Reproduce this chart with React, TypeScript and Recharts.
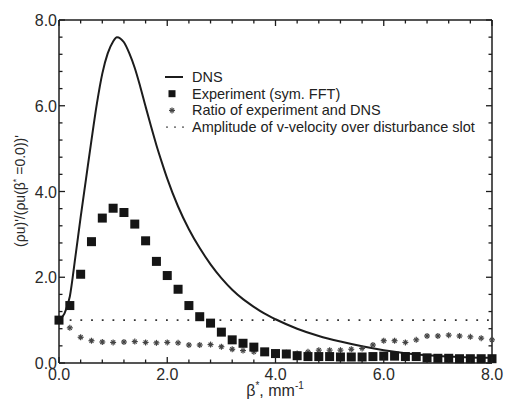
import React from "react";
import { ComposedChart, Legend, Line, Scatter, XAxis, YAxis } from "recharts";

// DNS curve
const dnsBeta = [0, 0.1, 0.2, 0.3, 0.4, 0.5, 0.6, 0.7, 0.8, 0.9, 1.0, 1.07, 1.2, 1.3, 1.4, 1.5, 1.6, 1.7, 1.8, 1.9, 2.0, 2.2, 2.4, 2.6, 2.8, 3.0, 3.2, 3.4, 3.6, 3.8, 4.0, 4.4, 4.8, 5.2, 5.6, 6.0, 6.4, 6.8, 7.2, 7.6, 8.0];
const dnsAmp = [1.0, 1.15, 1.55, 2.45, 3.4, 4.3, 5.2, 6.05, 6.75, 7.22, 7.5, 7.6, 7.48, 7.22, 6.88, 6.45, 5.98, 5.52, 5.08, 4.68, 4.3, 3.65, 3.12, 2.68, 2.3, 1.98, 1.71, 1.49, 1.31, 1.15, 1.02, 0.8, 0.63, 0.5, 0.39, 0.3, 0.23, 0.18, 0.15, 0.13, 0.12];

// experiment samples (sym. FFT) and ratio experiment / DNS
const expBeta = [0, 0.2, 0.4, 0.6, 0.8, 1.0, 1.2, 1.4, 1.6, 1.8, 2.0, 2.2, 2.4, 2.6, 2.8, 3.0, 3.2, 3.4, 3.6, 3.8, 4.0, 4.2, 4.4, 4.6, 4.8, 5.0, 5.2, 5.4, 5.6, 5.8, 6.0, 6.2, 6.4, 6.6, 6.8, 7.0, 7.2, 7.4, 7.6, 7.8, 8.0];
const expAmp = [1.0, 1.34, 2.07, 2.83, 3.38, 3.61, 3.51, 3.24, 2.85, 2.37, 2.04, 1.72, 1.34, 1.08, 0.93, 0.72, 0.54, 0.46, 0.37, 0.26, 0.22, 0.21, 0.17, 0.15, 0.15, 0.15, 0.14, 0.14, 0.14, 0.15, 0.16, 0.16, 0.15, 0.15, 0.12, 0.11, 0.11, 0.1, 0.1, 0.1, 0.1];
const ratioAmp = [1.0, 0.82, 0.6, 0.52, 0.49, 0.48, 0.49, 0.5, 0.48, 0.47, 0.48, 0.47, 0.42, 0.42, 0.43, 0.38, 0.32, 0.29, 0.26, 0.26, 0.24, 0.24, 0.22, 0.26, 0.3, 0.3, 0.3, 0.32, 0.34, 0.42, 0.52, 0.52, 0.48, 0.54, 0.63, 0.63, 0.65, 0.63, 0.61, 0.58, 0.54];

// v-velocity amplitude over the slot
const slotBeta = [0, 8];
const slotAmp = [1.0, 1.0];

const xTicks = [0, 0.4, 0.8, 1.2, 1.6, 2.0, 2.4, 2.8, 3.2, 3.6, 4.0, 4.4, 4.8, 5.2, 5.6, 6.0, 6.4, 6.8, 7.2, 7.6, 8.0];
const yTicks = [0, 0.4, 0.8, 1.2, 1.6, 2.0, 2.4, 2.8, 3.2, 3.6, 4.0, 4.4, 4.8, 5.2, 5.6, 6.0, 6.4, 6.8, 7.2, 7.6, 8.0];

const legendLabels = [
  "DNS",
  "Experiment (sym. FFT)",
  "Ratio of experiment and DNS",
  "Amplitude of v-velocity over disturbance slot",
];

const ink = "#1c1c1c";
const font = "'Liberation Sans', Arial, sans-serif";

const toRows = (xs: number[], ys: number[]) => xs.map((beta, i) => ({ beta, amp: ys[i] }));
const dnsData = toRows(dnsBeta, dnsAmp);
const expData = toRows(expBeta, expAmp);
const ratioData = toRows(expBeta, ratioAmp);
const slotData = toRows(slotBeta, slotAmp);

const isMajor = (v: number) => Math.abs(v / 2 - Math.round(v / 2)) < 1e-6;
const tickLen = (v: number) => (isMajor(v) ? 6 : 3.5);

function BottomTick({ x, y, payload }: any) {
  const v = payload.value;
  return (
    <g>
      <line x1={x} y1={y} x2={x} y2={y - tickLen(v)} stroke={ink} strokeWidth={1.3} />
      {isMajor(v) && (
        <text x={x} y={y + 17} textAnchor="middle" fontFamily={font} fontSize={16} fill="#2a2a2a">
          {v.toFixed(1)}
        </text>
      )}
    </g>
  );
}

function TopTick({ x, y, payload }: any) {
  return <line x1={x} y1={y} x2={x} y2={y + tickLen(payload.value)} stroke={ink} strokeWidth={1.3} />;
}

function LeftTick({ x, y, payload }: any) {
  const v = payload.value;
  return (
    <g>
      <line x1={x} y1={y} x2={x + tickLen(v)} y2={y} stroke={ink} strokeWidth={1.3} />
      {isMajor(v) && (
        <text x={x - 2} y={y + 6} textAnchor="end" fontFamily={font} fontSize={16} fill="#2a2a2a">
          {v.toFixed(1)}
        </text>
      )}
    </g>
  );
}

function RightTick({ x, y, payload }: any) {
  return <line x1={x} y1={y} x2={x - tickLen(payload.value)} y2={y} stroke={ink} strokeWidth={1.3} />;
}

function SquareDot({ cx, cy }: any) {
  return <rect x={cx - 4.5} y={cy - 4.5} width={9} height={9} fill="#151515" />;
}

function StarDot({ cx, cy }: any) {
  const r = 3;
  return (
    <g stroke="#444" strokeWidth={1.2}>
      <line x1={cx - r} y1={cy} x2={cx + r} y2={cy} />
      <line x1={cx} y1={cy - r} x2={cx} y2={cy + r} />
      <line x1={cx - 2} y1={cy - 2} x2={cx + 2} y2={cy + 2} />
      <line x1={cx - 2} y1={cy + 2} x2={cx + 2} y2={cy - 2} />
    </g>
  );
}

function LegendBox() {
  const rowH = 16.7;
  return (
    <svg width={340} height={72} style={{ display: "block" }}>
      {legendLabels.map((label, i) => {
        const cy = 9 + i * rowH;
        return (
          <g key={label}>
            {i === 0 && <line x1={5} y1={cy} x2={23} y2={cy} stroke={ink} strokeWidth={2} />}
            {i === 1 && <rect x={8.5} y={cy - 3.5} width={7} height={7} fill="#151515" />}
            {i === 2 && <StarDot cx={12} cy={cy} />}
            {i === 3 &&
              [7, 15, 23].map((dx) => <circle key={dx} cx={dx} cy={cy} r={0.9} fill="#444" />)}
            <text x={32} y={cy + 5} fontFamily={font} fontSize={14.5} fill="#222">
              {label}
            </text>
          </g>
        );
      })}
    </svg>
  );
}

export default function App() {
  return (
    <div style={{ position: "absolute", left: 0, top: 0, width: 505, height: 406, background: "#fff" }}>
      <ComposedChart width={505} height={406} margin={{ top: 19, right: 12, bottom: 0, left: 0 }}>
        <XAxis
          xAxisId="bottom"
          dataKey="beta"
          type="number"
          domain={[0, 8]}
          ticks={xTicks}
          interval={0}
          height={43}
          tickSize={0}
          tickMargin={0}
          tickLine={false}
          axisLine={{ stroke: ink, strokeWidth: 1.5 }}
          tick={<BottomTick />}
        />
        <XAxis
          xAxisId="top"
          dataKey="beta"
          orientation="top"
          type="number"
          domain={[0, 8]}
          ticks={xTicks}
          interval={0}
          height={1}
          tickSize={0}
          tickMargin={0}
          tickLine={false}
          axisLine={{ stroke: ink, strokeWidth: 1.5 }}
          tick={<TopTick />}
        />
        <YAxis
          yAxisId="left"
          dataKey="amp"
          type="number"
          domain={[0, 8]}
          ticks={yTicks}
          interval={0}
          width={59}
          tickSize={0}
          tickMargin={0}
          tickLine={false}
          axisLine={{ stroke: ink, strokeWidth: 1.5 }}
          tick={<LeftTick />}
        />
        <YAxis
          yAxisId="right"
          dataKey="amp"
          orientation="right"
          type="number"
          domain={[0, 8]}
          ticks={yTicks}
          interval={0}
          width={1}
          tickSize={0}
          tickMargin={0}
          tickLine={false}
          axisLine={{ stroke: ink, strokeWidth: 1.5 }}
          tick={<RightTick />}
        />
        <Legend
          layout="vertical"
          align="center"
          verticalAlign="middle"
          wrapperStyle={{ left: 160, top: 68, width: 340, height: 72 }}
          content={() => <LegendBox />}
        />
        <Line
          xAxisId="top"
          yAxisId="right"
          data={slotData}
          dataKey="amp"
          stroke="#333"
          strokeWidth={1.8}
          strokeDasharray="1.8 8.9"
          dot={false}
          isAnimationActive={false}
        />
        <Line
          xAxisId="bottom"
          yAxisId="left"
          data={dnsData}
          dataKey="amp"
          type="monotone"
          stroke={ink}
          strokeWidth={2}
          dot={false}
          isAnimationActive={false}
        />
        <Scatter
          xAxisId="bottom"
          yAxisId="left"
          data={ratioData}
          dataKey="amp"
          shape={<StarDot />}
          isAnimationActive={false}
        />
        <Scatter
          xAxisId="bottom"
          yAxisId="left"
          data={expData}
          dataKey="amp"
          shape={<SquareDot />}
          isAnimationActive={false}
        />
      </ComposedChart>
      <svg width={505} height={406} style={{ position: "absolute", left: 0, top: 0, pointerEvents: "none" }}>
        <text
          transform="translate(25,191) rotate(-90)"
          textAnchor="middle"
          fontFamily={font}
          fontSize={14}
          fill="#2a2a2a"
        >
          (ρu)'/(ρu(β<tspan fontSize={9} dy={-6}>*</tspan>
          <tspan dy={6}> =0.0))'</tspan>
        </text>
        <text x={275} y={396} textAnchor="middle" fontFamily={font} fontSize={16} fill="#2a2a2a">
          β<tspan fontSize={10} dy={-7}>*</tspan>
          <tspan dy={7}>, mm</tspan>
          <tspan fontSize={10} dy={-7}>-1</tspan>
        </text>
      </svg>
    </div>
  );
}
